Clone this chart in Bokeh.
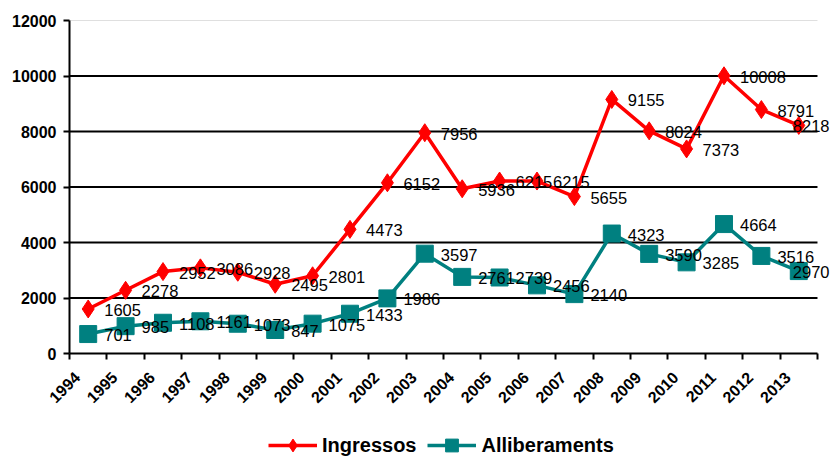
import math
from bokeh.plotting import figure
from bokeh.layouts import column
from bokeh.models import Range1d, FixedTicker, Legend, LegendItem
from bokeh.core.properties import value
from bokeh.embed import file_html
from bokeh.resources import INLINE

years = list(range(1994, 2014))
ingressos = [1605, 2278, 2952, 3086, 2928, 2495, 2801, 4473, 6152, 7956,
             5936, 6215, 6215, 5655, 9155, 8024, 7373, 10008, 8791, 8218]
alliberaments = [701, 985, 1108, 1161, 1073, 847, 1075, 1433, 1986, 3597,
                 2761, 2739, 2456, 2140, 4323, 3590, 3285, 4664, 3516, 2970]
y_ticks = [0, 2000, 4000, 6000, 8000, 10000, 12000]
series_names = ["Ingressos", "Alliberaments"]

RED = "#FF0000"
TEAL = "#008080"
FONT = "Liberation Sans"

x_lo = years[0] - 0.5
x_hi = years[-1] + 0.5

p = figure(width=834, height=417,
           x_range=Range1d(x_lo, x_hi + 0.455),
           y_range=Range1d(y_ticks[0], y_ticks[-1]),
           output_backend="svg", toolbar_location=None,
           min_border_left=69, min_border_right=0, min_border_top=20,
           min_border_bottom=64)
p.outline_line_color = None
p.background_fill_color = "white"
p.border_fill_color = "white"
p.xgrid.visible = False
p.ygrid.visible = False

# horizontal grid lines limited to the plot area
inner = y_ticks[1:-1]
p.segment(x0=[x_lo] * len(inner), x1=[x_hi] * len(inner), y0=inner, y1=inner,
          line_color="black", line_width=2)
p.segment(x0=[x_lo], x1=[x_hi], y0=[y_ticks[-1]], y1=[y_ticks[-1]],
          line_color="#c0c0c0", line_width=1)

# y axis
p.yaxis.ticker = FixedTicker(ticks=y_ticks)
p.yaxis.axis_line_width = 2
p.yaxis.axis_line_color = "black"
p.yaxis.major_tick_line_width = 2
p.yaxis.major_tick_out = 6
p.yaxis.major_tick_in = 0
p.yaxis.minor_tick_line_color = None
p.yaxis.major_label_standoff = 7
p.yaxis.major_label_text_font = FONT
p.yaxis.major_label_text_font_style = "bold"
p.yaxis.major_label_text_font_size = "16px"
p.yaxis.major_label_text_color = "black"

# x axis
bounds = [y - 0.5 for y in years] + [x_hi]
label_pos = [y - 0.3 for y in years]
p.xaxis.ticker = FixedTicker(ticks=label_pos, minor_ticks=bounds)
p.xaxis.major_label_overrides = {lp: str(y) for lp, y in zip(label_pos, years)}
p.xaxis.bounds = (x_lo, x_hi)
p.xaxis.axis_line_width = 2
p.xaxis.axis_line_color = "black"
p.xaxis.major_tick_line_color = None
p.xaxis.major_tick_out = 0
p.xaxis.major_tick_in = 0
p.xaxis.minor_tick_line_color = "black"
p.xaxis.minor_tick_line_width = 2
p.xaxis.minor_tick_out = 6
p.xaxis.minor_tick_in = 0
p.xaxis.major_label_orientation = math.pi / 4
p.xaxis.major_label_standoff = 15
p.xaxis.major_label_text_font = FONT
p.xaxis.major_label_text_font_style = "bold"
p.xaxis.major_label_text_font_size = "16px"
p.xaxis.major_label_text_color = "black"

# series
p.line(years, ingressos, line_color=RED, line_width=3.5)
p.scatter(years, ingressos, marker="diamond", size=18,
          fill_color=RED, line_color=RED)
p.line(years, alliberaments, line_color=TEAL, line_width=3.5)
p.scatter(years, alliberaments, marker="square", size=17,
          fill_color=TEAL, line_color=TEAL)

# data labels: right of each point, the last one pulled back inside the chart
label_dx = [16] * (len(years) - 1) + [-6]
for vals in (ingressos, alliberaments):
    p.text(x=years, y=vals, text=[str(v) for v in vals],
           x_offset=label_dx, y_offset=1, text_baseline="middle",
           text_align="left", text_font=value(FONT),
           text_font_size="16.5px", text_color="black")

# legend strip below the chart
q = figure(width=834, height=40, x_range=Range1d(0, 1), y_range=Range1d(-2, -1),
           output_backend="svg", toolbar_location=None,
           min_border_left=0, min_border_right=0, min_border_top=0,
           min_border_bottom=0, x_axis_location=None, y_axis_location=None)
q.outline_line_color = None
q.xgrid.visible = False
q.ygrid.visible = False
q.background_fill_color = "white"
q.border_fill_color = "white"
ql1 = q.line(years, ingressos, line_color=RED, line_width=3.5)
qs1 = q.scatter(years, ingressos, marker="diamond", size=18,
                fill_color=RED, line_color=RED)
ql2 = q.line(years, alliberaments, line_color=TEAL, line_width=3.5)
qs2 = q.scatter(years, alliberaments, marker="square", size=17,
                fill_color=TEAL, line_color=TEAL)

legend = Legend(items=[LegendItem(label=series_names[0], renderers=[ql1, qs1]),
                       LegendItem(label=series_names[1], renderers=[ql2, qs2])],
                location=(199, -4), orientation="horizontal",
                glyph_width=49, glyph_height=32, label_standoff=5, spacing=11,
                padding=0, margin=0, border_line_color=None,
                background_fill_alpha=0,
                label_text_font=FONT, label_text_font_style="bold",
                label_text_font_size="20px", label_text_color="black")
q.add_layout(legend, "center")

layout = column(p, q, spacing=0)
open("out.html", "w").write(file_html(layout, INLINE))
